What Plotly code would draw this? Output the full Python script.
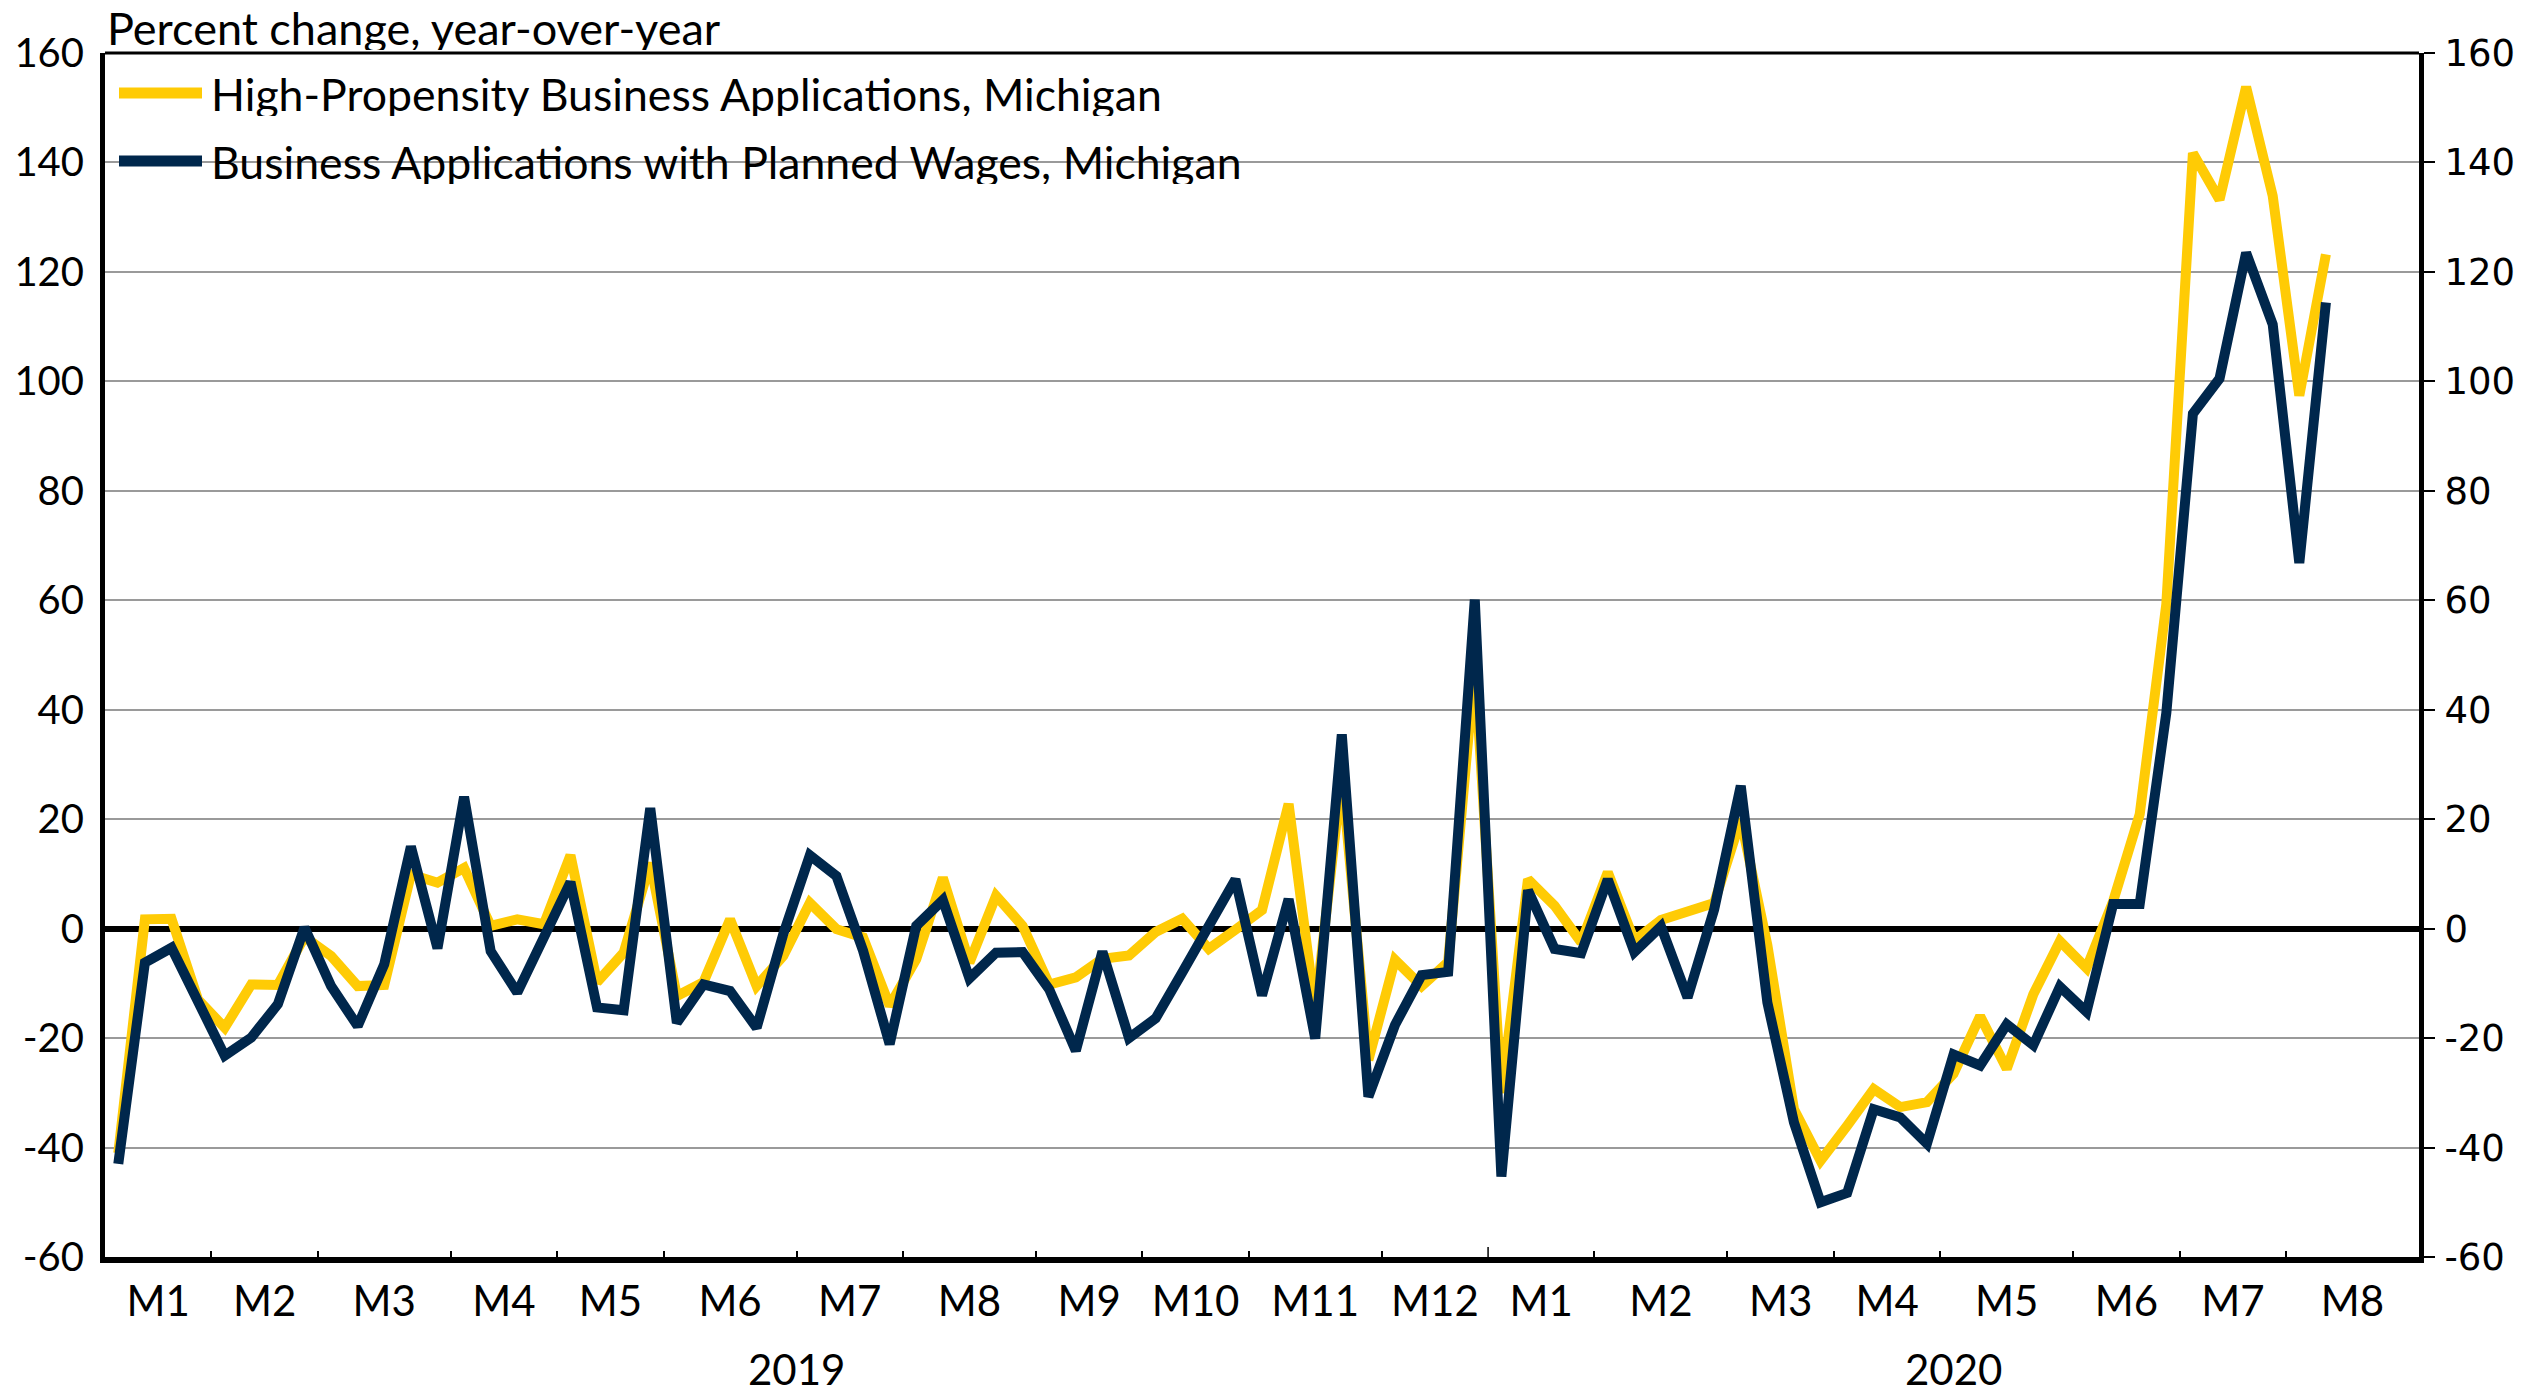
import plotly.graph_objects as go

# ---------------- data ----------------
years = ["2019", "2020"]
months_2019 = ["M1", "M2", "M3", "M4", "M5", "M6", "M7", "M8", "M9", "M10", "M11", "M12"]
weeks_2019 = [4, 4, 5, 4, 4, 5, 4, 5, 4, 4, 5, 4]
months_2020 = ["M1", "M2", "M3", "M4", "M5", "M6", "M7", "M8"]
weeks_2020 = [4, 5, 4, 4, 5, 4, 4, 5]

high_propensity = [
    -41, 1.7, 1.8, -13, -18.1, -10.2, -10.3, -1.5, -5, -10.5,
    -10.3, 9.9, 8.4, 11.1, 0.5, 1.7, 0.8, 13.4, -9.8, -4.4,
    12, -12.3, -9.8, 1.7, -10.5, -5, 4.7, -0.1, -1.6, -14.1,
    -5.6, 9.3, -6.2, 6.0, 0.5, -10.2, -8.9, -5.5, -4.9, -0.6,
    1.8, -3.7, -0.2, 3.4, 22.8, -15, 28, -24, -5.7, -10.5,
    -6.1, 48, -30, 9.0, 4.2, -2.5, 10.3, -2.2, 1.6, 3.2,
    4.7, 20, -3, -33, -42.4, -36, -29.3, -32.6, -31.7, -26.5,
    -16, -25.6, -12, -2.3, -7.2, 5, 20.9, 59.3, 141.7, 133.2,
    153.8, 133.9, 97.4, 123.2,
]
planned_wages = [
    -43, -6.2, -3.5, -13.5, -23.2, -19.9, -13.8, 0.2, -10.5, -17.8,
    -6.5, 15.0, -3.6, 24.1, -4.1, -11.7, -2, 8.5, -14.4, -14.9,
    22.0, -17.2, -10.2, -11.4, -18.1, -1, 13.4, 9.6, -4, -21.1,
    0.5, 5.2, -9.1, -4.4, -4.3, -11.1, -22.3, -4.2, -20.0, -16.4,
    -8, 0.5, 9.0, -12.2, 5.4, -20.1, 35.5, -30.7, -17.6, -8.5,
    -7.9, 60.1, -45.3, 7.0, -3.7, -4.5, 9.0, -4.3, 0.4, -12.6,
    3.5, 26.1, -13.5, -35.4, -50.0, -48.3, -33.0, -34.5, -39.3, -23.0,
    -25.0, -17.5, -21.3, -10.6, -15.2, 4.5, 4.5, 39.4, 94.1, 100.5,
    123.5, 110.4, 66.8, 114.4,
]
series_names = [
    "High-Propensity Business Applications, Michigan",
    "Business Applications with Planned Wages, Michigan",
]
y_ticks = list(range(-60, 161, 20))
y_ticktext = [str(v) for v in y_ticks]  # ASCII hyphen for negatives

# ---------------- derived category layout ----------------
month_labels = months_2019 + months_2020
month_lengths = weeks_2019 + weeks_2020
starts = []
acc = 0
for L in month_lengths:
    starts.append(acc)
    acc += L
n_slots = acc
month_centers = [s + L / 2 - 0.5 for s, L in zip(starts, month_lengths)]
year_boundary = sum(weeks_2019) - 0.5
boundaries = [s - 0.5 for s in starts[1:] if s - 0.5 != year_boundary]
year_centers = [(sum(weeks_2019) - 1) / 2, sum(weeks_2019) + (sum(weeks_2020) - 1) / 2]
xs = list(range(len(high_propensity)))

GOLD = "#FFCB05"
NAVY = "#00274C"
FONT = "Lato"

fig = go.Figure()
fig.add_trace(go.Scatter(x=xs, y=high_propensity, mode="lines", name=series_names[0],
                         line=dict(color=GOLD, width=10), showlegend=False,
                         xaxis="x", yaxis="y"))
fig.add_trace(go.Scatter(x=xs, y=planned_wages, mode="lines", name=series_names[1],
                         line=dict(color=NAVY, width=10), showlegend=False,
                         xaxis="x", yaxis="y2"))

W, H = 2541, 1394
ml, mt = 105, 53
pw, ph = 2314, 1204
fig.update_layout(
    template="none",
    width=W, height=H,
    margin=dict(l=ml, t=mt, r=W - ml - pw, b=H - mt - ph, pad=0, autoexpand=False),
    paper_bgcolor="white", plot_bgcolor="white",
    font=dict(family=FONT, color="black"),
    showlegend=False,
    xaxis=dict(
        range=[-0.5, n_slots - 0.5], tickmode="array", tickvals=month_centers,
        ticktext=month_labels, ticks="", showgrid=False, zeroline=False,
        showline=True, linecolor="black", linewidth=6, automargin=False,
        tickfont=dict(family=FONT, size=42, color="black"),
        ticklabelstandoff=3,
        minor=dict(tickmode="array", tickvals=boundaries, ticks="inside",
                   ticklen=6, tickwidth=1.5, tickcolor="black", showgrid=False),
    ),
    yaxis=dict(
        range=[-60, 160], tickmode="array", tickvals=y_ticks, ticktext=y_ticktext,
        showgrid=True, gridcolor="#9a9a9a", gridwidth=1.5,
        zeroline=True, zerolinecolor="black", zerolinewidth=6,
        showline=True, linecolor="black", linewidth=5, ticks="", automargin=False,
        tickfont=dict(family=FONT, size=40, color="black"),
        ticklabelstandoff=8,
    ),
    yaxis2=dict(
        range=[-60, 160], tickmode="array", tickvals=y_ticks, ticktext=y_ticktext,
        overlaying="y", side="right", showgrid=False, zeroline=False,
        showline=True, linecolor="black", linewidth=5, automargin=False,
        ticks="outside", ticklen=11, tickwidth=1.5, tickcolor="black",
        tickfont=dict(family="DejaVu Sans", size=37, color="black"),
        ticklabelstandoff=2,
    ),
)

shapes = [
    # top frame line
    dict(type="line", xref="paper", yref="paper", x0=0, x1=1, y0=1, y1=1,
         line=dict(color="black", width=3)),
    # longer year-boundary tick
    dict(type="line", xref="x", yref="paper", x0=year_boundary, x1=year_boundary,
         ysizemode="pixel", yanchor=0, y0=0, y1=10, line=dict(color="black", width=1.5)),
]
# custom legend samples
leg_y = [1 - 40 / ph, 1 - 108 / ph]
for yy, col in zip(leg_y, [GOLD, NAVY]):
    shapes.append(dict(type="line", xref="paper", yref="paper",
                       x0=14 / pw, x1=97 / pw, y0=yy, y1=yy,
                       line=dict(color=col, width=11)))
fig.update_layout(shapes=shapes)

ann = []
for yy, name in zip(leg_y, series_names):
    ann.append(dict(text=name, xref="paper", yref="paper", x=104 / pw, y=yy,
                    xanchor="left", yanchor="middle", showarrow=False, height=46,
                    font=dict(family=FONT, size=44.6, color="black")))
ann.append(dict(text="Percent change, year-over-year", xref="paper", yref="paper",
                x=0, y=1, xanchor="left", yanchor="middle", xshift=0, yshift=25,
                showarrow=False, height=44,
                font=dict(family=FONT, size=45, color="black")))
for yc, yr in zip(year_centers, years):
    ann.append(dict(text=yr, xref="x", yref="paper", x=yc, y=0, xanchor="center",
                    yanchor="middle", yshift=-112, showarrow=False, height=40,
                    font=dict(family=FONT, size=42, color="black")))
fig.update_layout(annotations=ann)

fig.write_html("out.html",
               config={"displayModeBar": False},
               post_script="document.body.style.margin='0';document.body.style.overflow='hidden';")
